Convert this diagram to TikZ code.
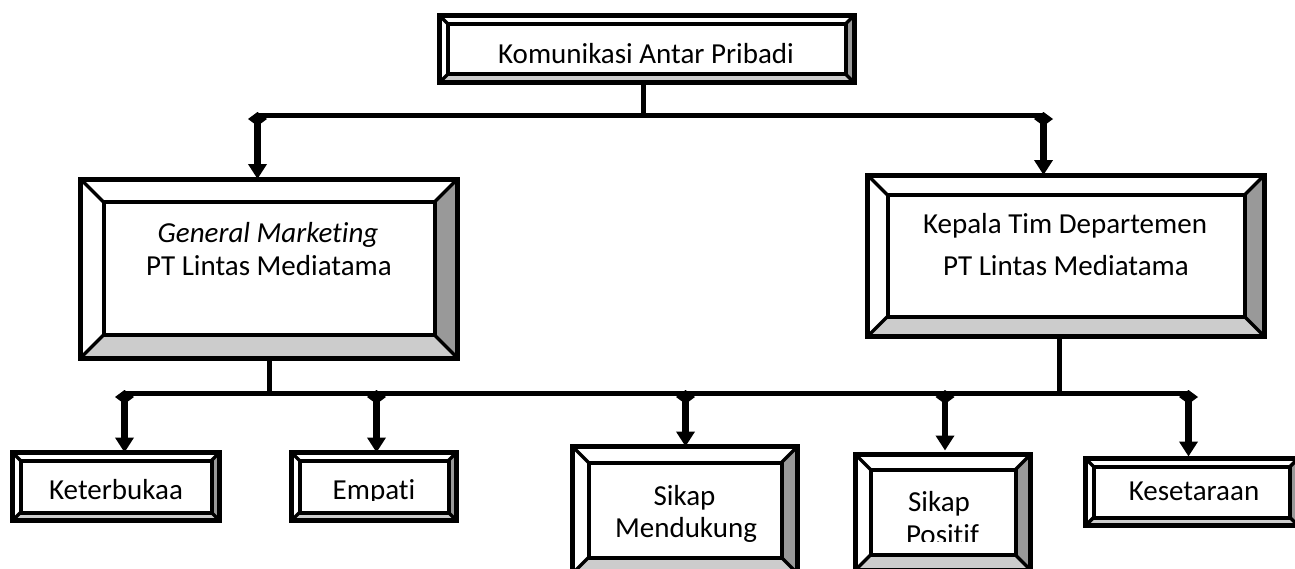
\documentclass[tikz,border=0pt]{standalone}
\usepackage{fontspec}
\setmainfont{Carlito}[Ligatures=NoCommon]
\usetikzlibrary{arrows.meta,calc}
\definecolor{botgray}{HTML}{CCCCCC}
\definecolor{rightgray}{HTML}{999999}
\newcommand\bevelpic[1]{%
 \coordinate (bSW) at (path picture bounding box.south west);
 \coordinate (bNE) at (path picture bounding box.north east);
 \coordinate (bSE) at (path picture bounding box.south east);
 \coordinate (bNW) at (path picture bounding box.north west);
 \coordinate (iSW) at ([shift={(#1pt,#1pt)}]bSW);
 \coordinate (iSE) at ([shift={(-#1pt,#1pt)}]bSE);
 \coordinate (iNE) at ([shift={(-#1pt,-#1pt)}]bNE);
 \coordinate (iNW) at ([shift={(#1pt,-#1pt)}]bNW);
 \fill[botgray] (bSW) -- (bSE) -- (iSE) -- (iSW) -- cycle;
 \fill[rightgray] (bSE) -- (bNE) -- (iNE) -- (iSE) -- cycle;
 \draw[line width=3.5pt] (bSW) -- (iSW) (bSE) -- (iSE) (bNE) -- (iNE) (bNW) -- (iNW);
 \draw[line width=4pt] (iSW) rectangle (iNE);
}
\tikzset{
 bevel/.style={draw, line width=5pt, fill=white, inner sep=0pt, outer sep=0pt,
   rectangle, path picture={\bevelpic{#1}}},
 txt/.style={font=\fontsize{29}{34}\selectfont, inner sep=0pt, anchor=base},
 hline/.style={line width=5pt},
 arr/.style={line width=6.5pt, shorten <=-3pt,
   {Diamond[width=19pt,length=14pt]}-{Triangle[width=18pt,length=15pt]}},
}
\begin{document}
\begin{tikzpicture}[x=1pt,y=-1pt]
\useasboundingbox[fill=white] (0,0) rectangle (1295,568);
% boxes
\node[bevel=8.5, minimum width=414.5pt, minimum height=67pt] (top) at (646.75,49) {};
\node[bevel=23, minimum width=377pt, minimum height=179pt] (gm) at (269,268.5) {};
\node[bevel=20, minimum width=397pt, minimum height=161.5pt] (kt) at (1066,255.75) {};
\node[bevel=8, minimum width=207pt, minimum height=68pt] (k1) at (116,486.5) {};
\node[bevel=8, minimum width=165pt, minimum height=68pt] (k2) at (374,486.5) {};
\node[bevel=16, minimum width=225pt, minimum height=127pt] (k3) at (685,510) {};
\node[bevel=15, minimum width=175pt, minimum height=115.5pt] (k4) at (943,512.25) {};
\node[bevel=8, minimum width=212.5pt, minimum height=67pt] (k5) at (1191.75,492) {};
% texts
\node[txt] (ttop) at (646,63) {Komunikasi Antar Pribadi};
\node[txt] (tgm1) at (268,242) {\itshape General Marketing};
\node[txt] (tgm2) at (269,275) {PT Lintas Mediatama};
\node[txt] (tkt1) at (1065,233) {Kepala Tim Departemen};
\node[txt] (tkt2) at (1066,275) {PT Lintas Mediatama};
\begin{scope}
\clip (0,440) rectangle (470,500);
\node[txt] (tk1) at (116,499) {Keterbukaa};
\node[txt] (tk2) at (374,499) {Empati};
\end{scope}
\node[txt] (tk3a) at (684.5,505) {Sikap};
\node[txt] (tk3b) at (686,537) {Mendukung};
\begin{scope}
\clip (860,460) rectangle (1030,541.5);
\node[txt] (tk4a) at (939,511.5) {Sikap};
\node[txt] (tk4b) at (942.5,544) {Positif};
\end{scope}
\node[txt] (tk5) at (1194,500) {Kesetaraan};
% connectors top level
\coordinate (t0) at (643,115);
\coordinate (tl) at (257.5,115);
\coordinate (tr) at (1043.5,115);
\draw[hline] (top.south -| t0) -- (t0);
\draw[hline] (tl) -- (tr);
\draw[arr] (tl) -- (gm.north -| tl);
\draw[arr] (tr) -- (kt.north -| tr);
% connectors lower level
\coordinate (gmj) at (269.5,393);
\coordinate (ktj) at (1059,393);
\coordinate (b1) at (124.5,393);
\coordinate (b2) at (376.5,393);
\coordinate (b3) at (685.5,393);
\coordinate (b4) at (945,393);
\coordinate (b5) at (1188.5,393);
\draw[hline] (gm.south -| gmj) -- (gmj);
\draw[hline] (kt.south -| ktj) -- (ktj);
\draw[hline] (b1) -- (b5);
\draw[arr] (b1) -- (k1.north -| b1);
\draw[arr] (b2) -- (k2.north -| b2);
\draw[arr] (b3) -- (k3.north -| b3);
\draw[arr, shorten >=4pt] (b4) -- (k4.north -| b4);
\draw[arr, shorten >=2pt] (b5) -- (k5.north -| b5);
\end{tikzpicture}
\end{document}
